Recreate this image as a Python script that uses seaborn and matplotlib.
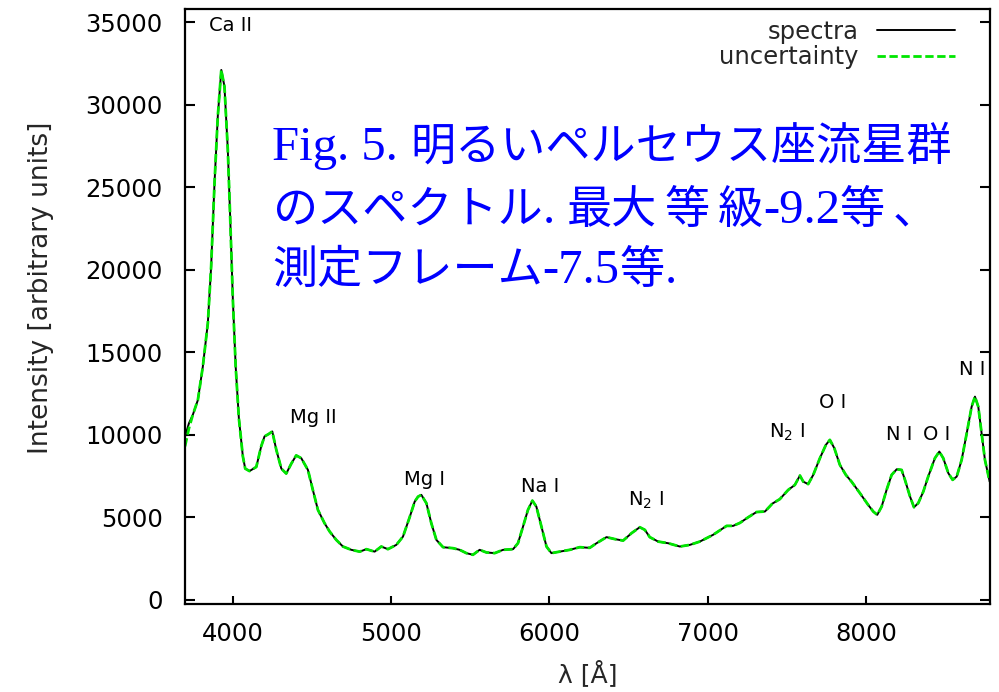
import matplotlib
matplotlib.use("Agg")
import matplotlib.pyplot as plt
import pandas as pd
import seaborn as sns

# Meteor spectrum: wavelength [Å] and measured intensity
wavelength = [3700, 3725, 3749, 3781, 3812, 3844, 3865, 3886, 3907, 3929,
              3949, 3970, 3985, 4002, 4020, 4040, 4065, 4080, 4107, 4150,
              4181, 4202, 4229, 4251, 4276, 4308, 4339, 4371, 4402, 4434,
              4476, 4507, 4539, 4581, 4613, 4655, 4697, 4750, 4803, 4845,
              4897, 4939, 4981, 5034, 5076, 5118, 5150, 5171, 5192, 5224,
              5255, 5287, 5329, 5392, 5434, 5476, 5518, 5560, 5603, 5655,
              5708, 5771, 5802, 5834, 5865, 5893, 5918, 5950, 5982, 6013,
              6066, 6129, 6192, 6255, 6298, 6361, 6413, 6466, 6519, 6571,
              6603, 6634, 6687, 6750, 6824, 6887, 6950, 7034, 7119, 7160,
              7203, 7255, 7308, 7361, 7408, 7455, 7508, 7550, 7582, 7603,
              7634, 7666, 7708, 7746, 7771, 7799, 7834, 7872, 7908, 7961,
              8013, 8045, 8070, 8098, 8129, 8161, 8193, 8224, 8245, 8277,
              8302, 8329, 8361, 8392, 8434, 8462, 8487, 8519, 8546, 8572,
              8603, 8635, 8666, 8687, 8708, 8729, 8750, 8780]

spectra = [9900, 10700, 11200, 12100, 14100, 16750, 20200, 25200, 29300, 32100,
           31100, 27300, 23200, 18200, 14100, 11000, 8700, 7950, 7800, 8050,
           9300, 9900, 10050, 10200, 9100, 7950, 7650, 8250, 8750, 8580,
           7870, 6660, 5450, 4640, 4140, 3630, 3230, 3030, 2920, 3070,
           2920, 3230, 3070, 3330, 3830, 5000, 5950, 6250, 6360, 5850,
           4640, 3630, 3190, 3130, 3030, 2830, 2730, 3030, 2870, 2830,
           3030, 3070, 3430, 4440, 5450, 6010, 5650, 4440, 3230, 2830,
           2920, 3030, 3190, 3150, 3430, 3800, 3680, 3590, 4040, 4400,
           4240, 3800, 3530, 3430, 3230, 3330, 3530, 3940, 4480, 4480,
           4660, 5000, 5320, 5350, 5830, 6100, 6660, 6960, 7530, 7160,
           7010, 7570, 8580, 9390, 9690, 9190, 8180, 7570, 7160, 6460,
           5750, 5350, 5150, 5650, 6660, 7570, 7910, 7870, 7270, 6260,
           5610, 5860, 6560, 7470, 8580, 8980, 8580, 7670, 7270, 7470,
           8480, 10090, 11700, 12310, 11700, 10090, 8480, 7160]

uncertainty = [9300, 10400] + spectra[2:]

# Emission line identifications
line_names = ["Ca II", "Mg II", "Mg I", "Na I", r"N$_\mathrm{2}$ I",
              r"N$_\mathrm{2}$ I", "O I", "N I", "O I", "N I"]
line_wavelength = [3984, 4512, 5213, 5939, 6609, 7500, 7790, 8207, 8447, 8668]
line_intensity = [34820, 11020, 7270, 6840, 6050, 10170, 11930, 9990, 9990, 13930]

x_ticks = [4000, 5000, 6000, 7000, 8000]
y_ticks = [0, 5000, 10000, 15000, 20000, 25000, 30000, 35000]

# Caption, split into runs of Latin (serif) and Japanese (gothic) text
caption_lines = [
    [("Fig. 5. ", "latin"), ("明るいペルセウス座流星群", "jp")],
    [("のスペクトル", "jp"), (". ", "latin"), ("最大", "jp"), (" ", "gap"),
     ("等", "jp"), (" ", "gap"), ("級", "jp"), ("-9.2", "latin"),
     ("等", "jp"), (" ", "gap"), ("、", "jp")],
    [("測定フレーム", "jp"), ("-7.5", "latin"), ("等", "jp"), (".", "latin")],
]

sns.set_theme(style="white")
plt.rcParams["font.family"] = ["DejaVu Sans"]
plt.rcParams["mathtext.fontset"] = "dejavusans"

df = pd.DataFrame({"wavelength": wavelength, "spectra": spectra,
                   "uncertainty": uncertainty})

fig = plt.figure(figsize=(9.99, 6.92), dpi=100)
ax = fig.add_axes([0.1852, 0.1272, 0.991 - 0.1852, 0.9877 - 0.1272])

sns.lineplot(data=df, x="wavelength", y="spectra", ax=ax, color="black",
             linewidth=1.4, estimator=None, sort=False, label="spectra")
sns.lineplot(data=df, x="wavelength", y="uncertainty", ax=ax, color="#00e600",
             linewidth=2.0, linestyle=(0, (3.0, 1.3)), estimator=None,
             sort=False, label="uncertainty")

for name, lx, ly in zip(line_names, line_wavelength, line_intensity):
    ax.text(lx, ly, name, ha="center", va="center", fontsize=14, color="black")

ax.set_xlim(3700, 8782)
ax.set_ylim(-250, 35820)
ax.set_xticks(x_ticks)
ax.set_yticks(y_ticks)
ax.set_xticklabels([str(v) for v in x_ticks])
ax.set_yticklabels([str(v) for v in y_ticks])
ax.tick_params(axis="y", direction="in", length=7, width=1.5, left=True,
               right=True, labelsize=17.5, pad=16, colors="black")
ax.tick_params(axis="x", direction="in", length=6, width=1.5, bottom=True,
               top=False, labelsize=17.5, pad=13, colors="black")
for side in ax.spines.values():
    side.set_linewidth(1.6)
    side.set_color("black")

ax.set_xlabel("λ [Å]", fontsize=18, labelpad=10)
ax.set_ylabel("Intensity [arbitrary units]", fontsize=19)
ax.yaxis.set_label_coords(-0.163, 0.531)

leg = ax.legend(loc="upper right", bbox_to_anchor=(0.9565, 0.981),
                frameon=False, markerfirst=False, fontsize=17.5,
                handlelength=3.2, handletextpad=0.75, labelspacing=0.05,
                borderpad=0, borderaxespad=0)

# Caption: place each run right after the previous one on a shared baseline
caption_fonts = {
    "latin": dict(family=["Liberation Serif"], fontsize=35),
    "gap": dict(family=["Liberation Serif"], fontsize=22),
    "jp": dict(family=["Noto Sans CJK JP"], fontsize=32.5),
}
caption_baselines = [160, 223, 283]
renderer = fig.canvas.get_renderer()
for runs, base in zip(caption_lines, caption_baselines):
    x_px = 272.0
    for text, kind in runs:
        t = fig.text(x_px / 999, 1 - base / 692, text, ha="left",
                     va="baseline", color="#0000ff", **caption_fonts[kind])
        x_px += t.get_window_extent(renderer).width

fig.savefig("out.png", dpi=100)
